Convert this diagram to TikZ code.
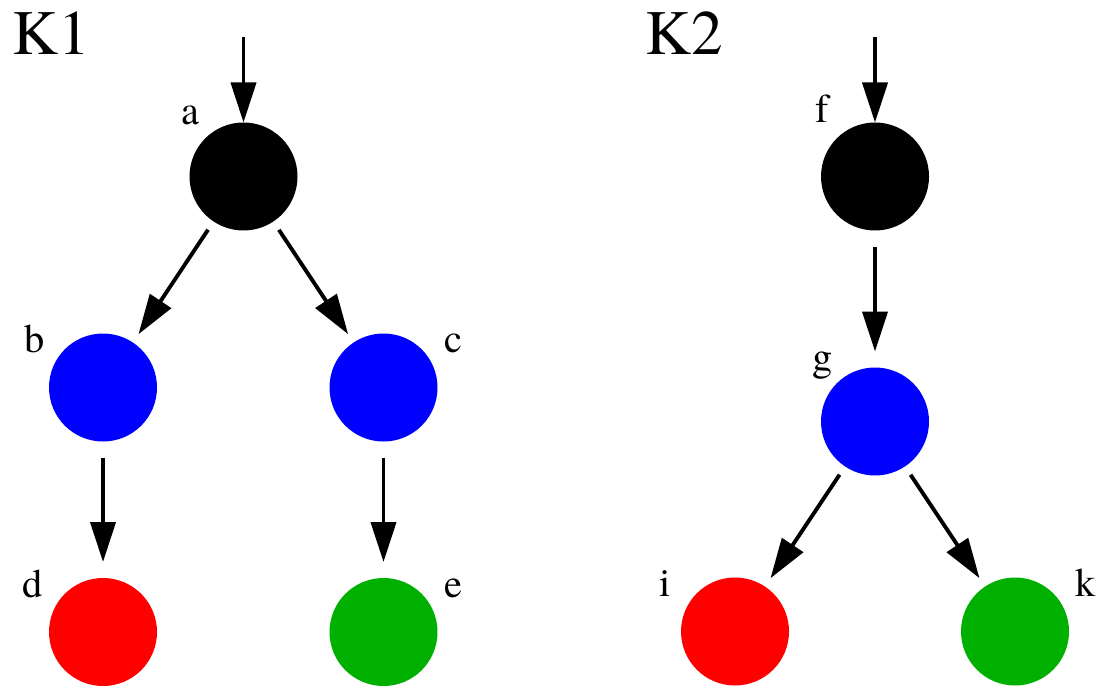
\documentclass[tikz,border=0pt]{standalone}
\usepackage{fontspec}
\setmainfont{texgyretermes-regular.otf}
\usepackage{tikz}
\usepackage{xcolor}
\usetikzlibrary{arrows.meta,positioning,calc}
\definecolor{dotblue}{RGB}{0,0,255}
\definecolor{dotred}{RGB}{255,0,0}
\definecolor{dotgreen}{RGB}{0,176,0}

\begin{document}
\begin{tikzpicture}[>={Triangle[length=0.8cm, width=0.5cm]}, on grid,
    dot/.style={circle, fill=#1, minimum size=2.16cm, inner sep=0pt, outer sep=0pt},
    tag/.style={inner sep=0pt, anchor=base west, font=\fontsize{23}{23}\selectfont},
    title/.style={inner sep=0pt, anchor=base west, font=\fontsize{36}{36}\selectfont},
    link/.style={->, line width=2.2pt, shorten <=0.2cm, shorten >=0.2cm},
    vlink/.style={link, shorten <=0.32cm, shorten >=0.32cm}]
  \useasboundingbox (0,0) rectangle (21.98,-13.72);

  % K1
  \node[dot=black] (a) at (4.87,-3.53) {};
  \node[dot=dotblue, below left=4.22cm and 2.81cm of a] (b) {};
  \node[dot=dotblue, right=5.61cm of b] (c) {};
  \node[dot=dotred, below=4.89cm of b] (d) {};
  \node[dot=dotgreen, below=4.89cm of c] (e) {};
  \coordinate[above=2.79cm of a] (ina);

  % K2
  \node[dot=black, right=12.63cm of a] (f) {};
  \node[dot=dotblue, below=4.9cm of f] (g) {};
  \node[dot=dotred, below left=4.2cm and 2.8cm of g] (i) {};
  \node[dot=dotgreen, right=5.6cm of i] (k) {};
  \coordinate[above=2.79cm of f] (inf);

  % labels
  \node[title] at (0.24,-1.10) {K1};
  \node[title] at (12.9,-1.10) {K2};
  \node[tag] at ($(a)+(-1.24,1.03)$) {a};
  \node[tag] at ($(b)+(-1.57,0.71)$) {b};
  \node[tag] at ($(c)+(1.21,0.71)$) {c};
  \node[tag] at ($(d)+(-1.62,0.70)$) {d};
  \node[tag] at ($(e)+(1.21,0.70)$) {e};
  \node[tag] at ($(f)+(-1.20,1.08)$) {f};
  \node[tag] at ($(g)+(-1.26,1.03)$) {g};
  \node[tag] at ($(i)+(-1.52,0.70)$) {i};
  \node[tag] at ($(k)+(1.20,0.70)$) {k};

  % arrows
  \draw[link, shorten <=0pt, shorten >=0pt] (ina) -- (a);
  \draw[link] (a) -- (b);
  \draw[link] (a) -- (c);
  \draw[vlink] (b) -- (d);
  \draw[vlink] (c) -- (e);
  \draw[link, shorten <=0pt, shorten >=0pt] (inf) -- (f);
  \draw[vlink] (f) -- (g);
  \draw[link] (g) -- (i);
  \draw[link] (g) -- (k);
\end{tikzpicture}
\end{document}
